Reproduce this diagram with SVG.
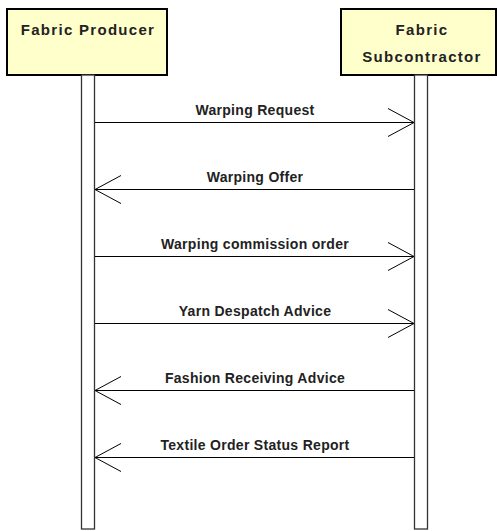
<svg xmlns="http://www.w3.org/2000/svg" width="497" height="531" viewBox="0 0 497 531">
<style>
.box{fill:#ffffcc;stroke:#000;stroke-width:2}
.life{fill:#fff;stroke:#333;stroke-width:1.3}
.hd{font-family:"Liberation Sans",Arial,sans-serif;font-weight:bold;font-size:15px;letter-spacing:1.3px;fill:#222;text-anchor:middle}
.lb{font-family:"Liberation Sans",Arial,sans-serif;font-weight:bold;font-size:14px;letter-spacing:0.3px;fill:#222;text-anchor:middle}
.msg{stroke:#000;stroke-width:1;fill:none}
</style>
<defs>
<marker id="open" viewBox="0 0 28 30" refX="27" refY="15" markerWidth="28" markerHeight="30" markerUnits="userSpaceOnUse" orient="auto">
<path d="M1,1 L27,15 L1,29" fill="none" stroke="#000" stroke-width="1"/>
</marker>
</defs>
<g id="fabric-producer">
<rect class="box" x="7" y="9" width="160" height="66"/>
<text class="hd" x="88" y="35">Fabric Producer</text>
<rect class="life" x="81.5" y="75" width="13" height="454"/>
</g>
<g id="fabric-subcontractor">
<rect class="box" x="341" y="9" width="155" height="66"/>
<text class="hd" x="422" y="35">Fabric</text>
<text class="hd" x="422" y="62">Subcontractor</text>
<rect class="life" x="414.5" y="75" width="13" height="454"/>
</g>
<g id="connectors">
<line class="msg" x1="95" y1="122.5" x2="414" y2="122.5" marker-end="url(#open)"/>
<text class="lb" x="255" y="115">Warping Request</text>
<line class="msg" x1="414" y1="189.5" x2="95" y2="189.5" marker-end="url(#open)"/>
<text class="lb" x="255" y="182">Warping Offer</text>
<line class="msg" x1="95" y1="256.5" x2="414" y2="256.5" marker-end="url(#open)"/>
<text class="lb" x="255" y="249">Warping commission order</text>
<line class="msg" x1="95" y1="323.5" x2="414" y2="323.5" marker-end="url(#open)"/>
<text class="lb" x="255" y="316">Yarn Despatch Advice</text>
<line class="msg" x1="414" y1="390.5" x2="95" y2="390.5" marker-end="url(#open)"/>
<text class="lb" x="255" y="383">Fashion Receiving Advice</text>
<line class="msg" x1="414" y1="457.5" x2="95" y2="457.5" marker-end="url(#open)"/>
<text class="lb" x="255" y="450">Textile Order Status Report</text>
</g>
</svg>
